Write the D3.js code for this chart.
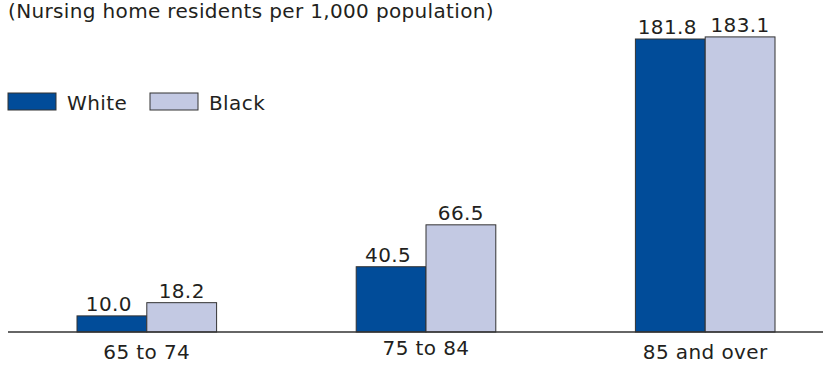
<!DOCTYPE html>
<html>
<head>
<meta charset="utf-8">
<script src="https://cdn.jsdelivr.net/npm/d3@7/dist/d3.min.js"></script>
<style>
  html, body { margin: 0; padding: 0; background: #fff; }
  svg { display: block; }
  text { font-family: "DejaVu Sans", sans-serif; fill: #231f20; letter-spacing: 0.4px; }
</style>
</head>
<body>
<svg id="chart" width="832" height="365"></svg>
<script>
// ---- data ----
const categories = ["65 to 74", "75 to 84", "85 and over"];
const seriesNames = ["White", "Black"];
const whiteValues = [10.0, 40.5, 181.8];
const blackValues = [18.2, 66.5, 183.1];
const valueLabels = [["10.0", "18.2"], ["40.5", "66.5"], ["181.8", "183.1"]];
const title = "(Nursing home residents per 1,000 population)";

// ---- layout ----
const W = 832, H = 365;
const baseY = 332;
const colors = { White: "#014c99", Black: "#c3c9e3" };
const catLabelDy = [27, 23, 27];

const svg = d3.select("#chart");

const x = d3.scaleBand().domain(categories).range([77, 775]).paddingInner(0.5).paddingOuter(0);
const xs = d3.scaleBand().domain(seriesNames).range([0, x.bandwidth()]).padding(0);
const y = d3.scaleLinear().domain([0, 206]).range([baseY, 0]);

const rows = categories.map((c, i) => ({
  cat: c,
  vals: [
    { s: "White", v: whiteValues[i], label: valueLabels[i][0] },
    { s: "Black", v: blackValues[i], label: valueLabels[i][1] }
  ]
}));

// title
svg.append("text")
  .attr("x", 8).attr("y", 18)
  .style("font-size", "20px")
  .style("letter-spacing", "0.35px")
  .text(title);

// bars
const g = svg.selectAll("g.grp").data(rows).join("g")
  .attr("class", "grp")
  .attr("transform", d => `translate(${x(d.cat)},0)`);

g.selectAll("rect").data(d => d.vals).join("rect")
  .attr("x", d => xs(d.s))
  .attr("y", d => y(d.v))
  .attr("width", xs.bandwidth())
  .attr("height", d => baseY - y(d.v))
  .attr("fill", d => colors[d.s])
  .attr("stroke", "#333")
  .attr("stroke-width", 1);

g.selectAll("text.val").data(d => d.vals).join("text")
  .attr("class", "val")
  .attr("x", d => xs(d.s) + xs.bandwidth() / 2 - (d.s === "White" ? 3 : 0))
  .attr("y", d => y(d.v) - 5)
  .attr("text-anchor", "middle")
  .style("font-size", "20px")
  .text(d => d.label);

// axis line
svg.append("line")
  .attr("x1", 8).attr("x2", 823)
  .attr("y1", baseY).attr("y2", baseY)
  .attr("stroke", "#333").attr("stroke-width", 1.5);

// category labels
svg.selectAll("text.cat").data(categories).join("text")
  .attr("class", "cat")
  .attr("x", d => x(d) + x.bandwidth() / 2)
  .attr("y", (d, i) => baseY + catLabelDy[i])
  .attr("text-anchor", "middle")
  .style("font-size", "20px")
  .text(d => d);

// legend
const legendX = [8, 150];
const lg = svg.selectAll("g.leg").data(seriesNames).join("g")
  .attr("class", "leg")
  .attr("transform", (d, i) => `translate(${legendX[i]},93)`);
lg.append("rect")
  .attr("width", 48).attr("height", 17)
  .attr("fill", d => colors[d])
  .attr("stroke", "#333").attr("stroke-width", 1);
lg.append("text")
  .attr("x", 59).attr("y", 17)
  .style("font-size", "20px")
  .text(d => d);
</script>
</body>
</html>
